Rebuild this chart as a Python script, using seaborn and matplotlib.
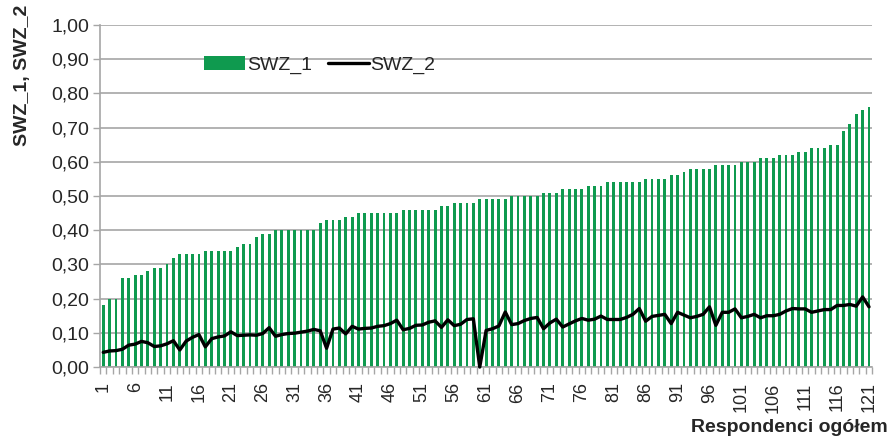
import numpy as np
import pandas as pd
import seaborn as sns
import matplotlib
matplotlib.use("Agg")
import matplotlib.pyplot as plt
from matplotlib.ticker import FixedLocator, FuncFormatter

sns.set_theme(style="ticks")
plt.rcParams['font.family'] = ['Liberation Sans', 'DejaVu Sans']

# SWZ_1 values for respondents 1..121 (sorted ascending)
swz_1 = [0.18, 0.20, 0.20, 0.26, 0.26, 0.27, 0.27, 0.28, 0.29, 0.29,
         0.30, 0.32, 0.33, 0.33, 0.33, 0.33, 0.34, 0.34, 0.34, 0.34,
         0.34, 0.35, 0.36, 0.36, 0.38, 0.39, 0.39, 0.40, 0.40, 0.40,
         0.40, 0.40, 0.40, 0.40, 0.42, 0.43, 0.43, 0.43, 0.44, 0.44,
         0.45, 0.45, 0.45, 0.45, 0.45, 0.45, 0.45, 0.46, 0.46, 0.46,
         0.46, 0.46, 0.46, 0.47, 0.47, 0.48, 0.48, 0.48, 0.48, 0.49,
         0.49, 0.49, 0.49, 0.49, 0.50, 0.50, 0.50, 0.50, 0.50, 0.51,
         0.51, 0.51, 0.52, 0.52, 0.52, 0.52, 0.53, 0.53, 0.53, 0.54,
         0.54, 0.54, 0.54, 0.54, 0.54, 0.55, 0.55, 0.55, 0.55, 0.56,
         0.56, 0.57, 0.58, 0.58, 0.58, 0.58, 0.59, 0.59, 0.59, 0.59,
         0.60, 0.60, 0.60, 0.61, 0.61, 0.61, 0.62, 0.62, 0.62, 0.63,
         0.63, 0.64, 0.64, 0.64, 0.65, 0.65, 0.69, 0.71, 0.74, 0.75,
         0.76]

# SWZ_2 values for the same respondents
swz_2 = [0.043, 0.047, 0.048, 0.052, 0.064, 0.067, 0.075, 0.071, 0.060, 0.062,
         0.068, 0.077, 0.050, 0.076, 0.087, 0.095, 0.059, 0.083, 0.088, 0.091,
         0.103, 0.092, 0.093, 0.094, 0.093, 0.098, 0.115, 0.090, 0.095, 0.098,
         0.099, 0.102, 0.105, 0.110, 0.106, 0.055, 0.111, 0.114, 0.097, 0.119,
         0.111, 0.113, 0.114, 0.119, 0.121, 0.127, 0.137, 0.109, 0.113, 0.122,
         0.123, 0.131, 0.135, 0.116, 0.138, 0.121, 0.125, 0.139, 0.141, 0.000,
         0.107, 0.112, 0.120, 0.161, 0.124, 0.127, 0.136, 0.142, 0.145, 0.112,
         0.129, 0.140, 0.117, 0.126, 0.135, 0.142, 0.137, 0.140, 0.149, 0.139,
         0.139, 0.139, 0.145, 0.154, 0.171, 0.134, 0.148, 0.151, 0.154, 0.127,
         0.160, 0.152, 0.144, 0.148, 0.154, 0.176, 0.122, 0.160, 0.160, 0.170,
         0.144, 0.148, 0.154, 0.144, 0.150, 0.150, 0.154, 0.164, 0.171, 0.170,
         0.170, 0.160, 0.164, 0.168, 0.168, 0.180, 0.180, 0.183, 0.178, 0.205,
         0.176]

respondents = list(range(1, len(swz_1) + 1))

GREEN = "#0f9a4f"
GRAY = "#a6a6a6"

df = pd.DataFrame({"resp": respondents, "SWZ_1": swz_1, "SWZ_2": swz_2})

fig = plt.figure(figsize=(8.9, 4.38), dpi=100)
ax = fig.add_axes([0.1124, 0.162, 0.8676, 0.781])

sns.barplot(data=df, x="resp", y="SWZ_1", color=GREEN, width=0.45,
            saturation=1, linewidth=0, edgecolor="none", ax=ax,
            label="SWZ_1", zorder=2)
sns.lineplot(x=np.arange(len(swz_2)), y=df["SWZ_2"], color="black",
             linewidth=2.4, ax=ax, label="SWZ_2", zorder=3)
for ln in ax.lines:
    ln.set_clip_on(False)

ax.set_xlim(-0.5, len(swz_1) - 0.5)
ax.set_ylim(0, 1.0)

# y axis
ax.set_yticks(np.arange(0, 1.01, 0.1))
ax.yaxis.set_major_formatter(FuncFormatter(lambda v, p: f"{v:.2f}".replace(".", ",")))
ax.grid(axis="y", color=GRAY, linewidth=1.2, zorder=0)
ax.set_axisbelow(True)

# x axis: labels every 5th, tick marks between categories
ax.xaxis.set_major_locator(FixedLocator(list(range(0, len(swz_1), 5))))
ax.set_xticklabels([str(r) for r in respondents[::5]], rotation=90)
ax.xaxis.set_minor_locator(FixedLocator(list(np.arange(-0.5, len(swz_1), 1.0))))
ax.tick_params(axis="x", which="major", length=0, pad=11, labelsize=13)
ax.tick_params(axis="x", which="minor", length=5, width=1, color=GRAY)
ax.tick_params(axis="y", length=5, width=1, color=GRAY, labelsize=14, pad=3)

for s in ["top", "right"]:
    ax.spines[s].set_visible(False)
for s in ["left", "bottom"]:
    ax.spines[s].set_color(GRAY)
    ax.spines[s].set_linewidth(1.2)

ax.set_xlabel("")
ax.set_ylabel("")
fig.text(0.025, 0.99, "SWZ_1, SWZ_2", rotation=90, ha="center", va="top",
         fontsize=14, fontweight="bold")
fig.text(0.997, 0.0137, "Respondenci ogółem", ha="right", va="baseline",
         fontsize=14, fontweight="bold")

handles, labels = ax.get_legend_handles_labels()
order = [labels.index("SWZ_1"), labels.index("SWZ_2")]
ax.legend([handles[i] for i in order], [labels[i] for i in order],
          loc="center left", bbox_to_anchor=(0.125, 0.883), ncol=2,
          frameon=False, fontsize=14, handlelength=2.1, handleheight=0.7,
          handletextpad=0.1, columnspacing=0.8, borderaxespad=0)

fig.savefig("out.png", dpi=100)
